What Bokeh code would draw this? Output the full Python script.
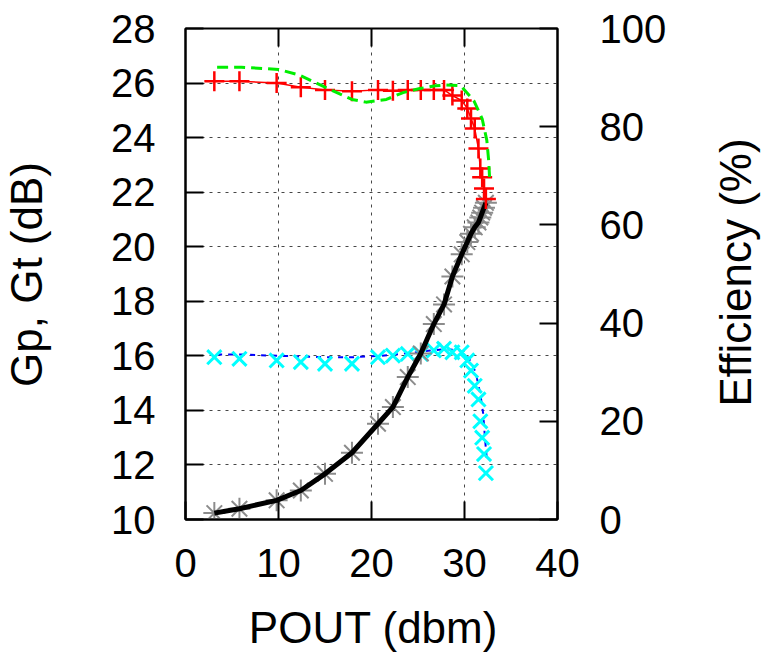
import math
from bokeh.plotting import figure
from bokeh.models import Range1d, LinearAxis, FixedTicker, Label
from bokeh.layouts import row, column
from bokeh.embed import file_html
from bokeh.resources import INLINE

# ---- data ----
pout = [3.1, 5.8, 9.8, 12.4, 15.0, 17.9, 20.7, 22.3, 23.9, 25.3, 26.7, 27.8,
        28.7, 29.7, 30.3, 30.7, 31.1, 31.5, 31.7, 31.9, 32.1, 32.3]
gp_red = [26.07, 26.07, 26.0, 25.85, 25.75, 25.7, 25.75, 25.72, 25.75, 25.75, 25.75, 25.75,
          25.54, 25.36, 25.07, 24.7, 24.33, 23.6, 22.87, 22.55, 22.13, 21.75]
gp_cyan = [15.95, 15.89, 15.83, 15.77, 15.71, 15.71, 15.95, 16.01, 16.07, 16.07, 16.2, 16.26,
           16.13, 16.13, 15.83, 15.46, 14.9, 14.4, 13.6, 13.0, 12.4, 11.7]
eff = [1.3, 2.2, 3.9, 5.9, 9.3, 13.6, 19.5, 22.9, 29.0, 33.8, 39.8, 43.8,
       49.5, 54.0, 56.5, 58.2, 59.5, 60.5, 61.5, 62.5, 63.5, 64.5]

gt_green_x = [3.4, 6.0, 10.0, 12.2, 15.0, 17.9, 19.4, 21.6, 23.4, 25.2, 26.9, 28.0,
              29.6, 31.0, 31.9, 32.4, 32.6, 32.7]
gt_green_y = [26.58, 26.58, 26.5, 26.3, 25.85, 25.4, 25.3, 25.4, 25.65, 25.8, 25.9, 25.93,
              25.9, 25.36, 24.69, 23.9, 23.16, 22.5]

gt_blue_x = [3.4, 6.0, 10.0, 15.0, 18.0, 21.0, 24.0, 26.5, 28.0, 29.5, 30.5, 31.2,
             31.7, 32.0, 32.2, 32.4]
gt_blue_y = [16.05, 16.05, 16.0, 15.95, 15.95, 16.0, 16.1, 16.2, 16.25, 16.2, 15.9, 15.4,
             14.6, 13.9, 13.0, 12.2]

x_ticks = [0, 10, 20, 30, 40]
y_ticks = [10, 12, 14, 16, 18, 20, 22, 24, 26, 28]
y2_ticks = [0, 20, 40, 60, 80, 100]

x_label = "POUT (dbm)"
y_label = "Gp, Gt (dB)"
y2_label = "Efficiency (%)"

FONT = "Liberation Sans"
TICK_SIZE = "40px"
LABEL_SIZE = "44px"
TICK_LEN = 18

# layout geometry (pixels)
W, H = 765, 654
LEFT_W, RIGHT_W, BOTTOM_H = 60, 53, 56
MAIN_W, MAIN_H = W - LEFT_W - RIGHT_W, H - BOTTOM_H
FRAME_BOTTOM = 519.5          # frames of the row are aligned with the main frame
TEXT_SHIFT = 18               # measured offset of alphabetic-baseline labels

p = figure(width=MAIN_W, height=MAIN_H, output_backend="svg", toolbar_location=None,
           x_range=Range1d(0, 40), y_range=Range1d(10, 28),
           min_border_left=185 - LEFT_W, min_border_right=MAIN_W - (557 - LEFT_W),
           min_border_top=28, min_border_bottom=MAIN_H - 519,
           background_fill_color="white", border_fill_color="white")
p.extra_y_ranges = {"eff": Range1d(0, 100)}

p.outline_line_color = "black"
p.outline_line_width = 2
p.outline_line_alpha = 1.0

# grids
p.xgrid.ticker = FixedTicker(ticks=x_ticks)
p.ygrid.ticker = FixedTicker(ticks=y_ticks)
for g in (p.xgrid, p.ygrid):
    g.grid_line_color = "#333333"
    g.grid_line_dash = "3 5"
    g.grid_line_width = 1
    g.grid_line_alpha = 0.9

def style_axis(ax, standoff):
    ax.major_label_text_font = FONT
    ax.major_label_text_font_size = TICK_SIZE
    ax.major_label_text_color = "black"
    ax.major_label_standoff = standoff
    ax.major_tick_in = TICK_LEN
    ax.major_tick_out = 0
    ax.minor_tick_in = 0
    ax.minor_tick_out = 0
    ax.major_tick_line_color = "black"
    ax.major_tick_line_width = 2
    ax.axis_line_color = "black"
    ax.axis_line_width = 2

xa = p.xaxis[0]
xa.ticker = FixedTicker(ticks=x_ticks)
style_axis(xa, 29)
ya = p.yaxis[0]
ya.ticker = FixedTicker(ticks=y_ticks)
style_axis(ya, 30)

ra = LinearAxis(y_range_name="eff", ticker=FixedTicker(ticks=y2_ticks))
style_axis(ra, 42)
p.add_layout(ra, "right")

# mirrored x ticks on the top border (inward)
tick_dy = TICK_LEN * (28 - 10) / 491.0
p.segment(x0=x_ticks[1:-1], y0=[28] * 3, x1=x_ticks[1:-1], y1=[28 - tick_dy] * 3,
          line_color="black", line_width=2)

# series
p.line(gt_blue_x, gt_blue_y, line_color="blue", line_width=2, line_dash="5 6")
p.scatter(pout, gp_cyan, marker="x", size=20, line_color="cyan", line_width=3)
p.scatter(pout, eff, y_range_name="eff", marker="asterisk", size=22,
          line_color="#8c8c8c", line_width=2)
p.line(pout, eff, y_range_name="eff", line_color="black", line_width=5)
p.line(pout, gp_red, line_color="red", line_width=1.5)
p.scatter(pout, gp_red, marker="cross", size=20, line_color="red", line_width=2.5)
p.line(gt_green_x, gt_green_y, line_color="#00ee00", line_width=3, line_dash="11 6")


def label_fig(w, h):
    f = figure(width=w, height=h, output_backend="svg", toolbar_location=None,
               x_axis_location=None, y_axis_location=None,
               min_border=0, min_border_left=0, min_border_right=0,
               min_border_top=0, min_border_bottom=0,
               background_fill_color="white", border_fill_color="white")
    f.outline_line_color = None
    f.grid.visible = False
    return f

# left title: baseline at x=43.5 px from the left edge, centred at y=274.5 from top
pl = label_fig(LEFT_W, MAIN_H)
pl.add_layout(Label(x=43.5 - TEXT_SHIFT, y=FRAME_BOTTOM - 274.5, x_units="screen", y_units="screen",
                    text=y_label, angle=math.pi / 2, text_font=FONT,
                    text_font_size=LABEL_SIZE, text_color="black",
                    text_align="center", text_baseline="alphabetic"))

# right title: baseline at x=753 px, centred at y=272.5 from top
pr = label_fig(RIGHT_W, MAIN_H)
pr.add_layout(Label(x=753 - (W - RIGHT_W) - TEXT_SHIFT, y=FRAME_BOTTOM - 272.5,
                    x_units="screen", y_units="screen",
                    text=y2_label, angle=math.pi / 2, text_font=FONT,
                    text_font_size=LABEL_SIZE, text_color="black",
                    text_align="center", text_baseline="alphabetic"))

# bottom title: baseline at y=645 px from top, centred at x=373
pb = label_fig(W, BOTTOM_H)
pb.add_layout(Label(x=373, y=H - 645 + TEXT_SHIFT, x_units="screen", y_units="screen",
                    text=x_label, text_font=FONT,
                    text_font_size=LABEL_SIZE, text_color="black",
                    text_align="center", text_baseline="alphabetic"))

layout = column(row(pl, p, pr, spacing=0), pb, spacing=0)

open("out.html", "w").write(file_html(layout, INLINE))
